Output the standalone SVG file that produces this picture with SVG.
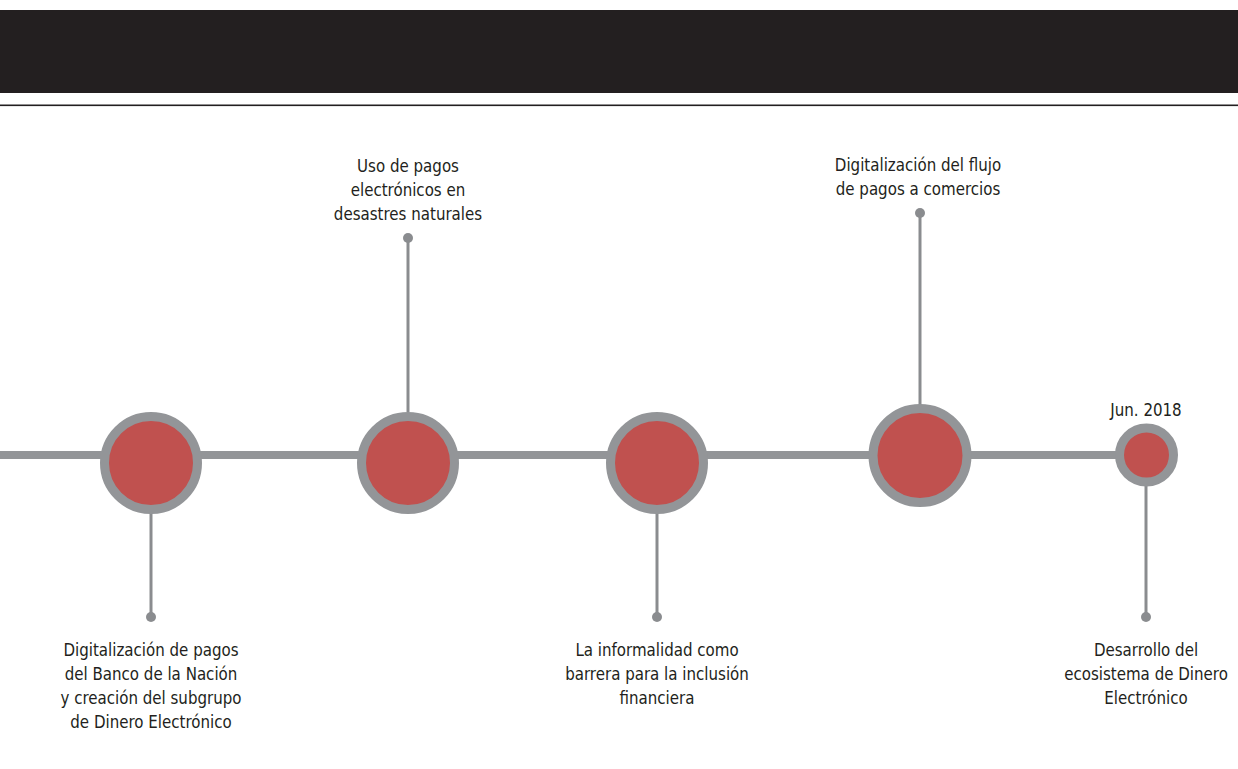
<svg xmlns="http://www.w3.org/2000/svg" width="1238" height="769" viewBox="0 0 1238 769">
<style>
.ring{fill:#c0514f;stroke:#939598;stroke-width:9}
.stem{stroke:#8a8c8f;stroke-width:3}
.dot{fill:#8a8c8f}
.lbl{font-family:"Liberation Sans Narrow","DejaVu Sans Condensed","Liberation Sans",sans-serif;font-size:18px;fill:#231f20;text-anchor:middle}
</style>
<rect x="0" y="0" width="1238" height="769" fill="#ffffff"/>
<rect x="0" y="10" width="1238" height="83" fill="#231f20"/>
<rect x="0" y="104.5" width="1238" height="1.6" fill="#231f20"/>
<g id="connectors">
<rect x="0" y="451" width="1146" height="8" fill="#939598"/>
<line class="stem" x1="151" y1="512" x2="151" y2="617"/>
<line class="stem" x1="408" y1="238" x2="408" y2="412"/>
<line class="stem" x1="657" y1="512" x2="657" y2="617"/>
<line class="stem" x1="920" y1="213" x2="920" y2="405"/>
<line class="stem" x1="1146" y1="486" x2="1146" y2="617"/>
<circle class="dot" cx="151" cy="617" r="5"/>
<circle class="dot" cx="408" cy="238" r="5"/>
<circle class="dot" cx="657" cy="617" r="5"/>
<circle class="dot" cx="920" cy="213" r="5"/>
<circle class="dot" cx="1146" cy="617" r="5"/>
</g>
<g id="node1">
<circle class="ring" cx="151" cy="463" r="46.5"/>
<g transform="translate(151 0) scale(0.93 1)">
<text class="lbl" x="0" y="656">Digitalización de pagos</text>
<text class="lbl" x="0" y="680">del Banco de la Nación</text>
<text class="lbl" x="0" y="704">y creación del subgrupo</text>
<text class="lbl" x="0" y="728">de Dinero Electrónico</text>
</g>
</g>
<g id="node2">
<circle class="ring" cx="408" cy="463" r="46.5"/>
<g transform="translate(408 0) scale(0.93 1)">
<text class="lbl" x="0" y="172">Uso de pagos</text>
<text class="lbl" x="0" y="196">electrónicos en</text>
<text class="lbl" x="0" y="220">desastres naturales</text>
</g>
</g>
<g id="node3">
<circle class="ring" cx="657" cy="463" r="46.5"/>
<g transform="translate(657 0) scale(0.93 1)">
<text class="lbl" x="0" y="656">La informalidad como</text>
<text class="lbl" x="0" y="680">barrera para la inclusión</text>
<text class="lbl" x="0" y="704">financiera</text>
</g>
</g>
<g id="node4">
<circle class="ring" cx="920" cy="455.5" r="47"/>
<g transform="translate(918 0) scale(0.93 1)">
<text class="lbl" x="0" y="171">Digitalización del flujo</text>
<text class="lbl" x="0" y="195">de pagos a comercios</text>
</g>
</g>
<g id="node5">
<circle class="ring" cx="1146.5" cy="455" r="27"/>
<g transform="translate(1146 0) scale(0.93 1)">
<text class="lbl" x="0" y="416">Jun. 2018</text>
<text class="lbl" x="0" y="656">Desarrollo del</text>
<text class="lbl" x="0" y="680">ecosistema de Dinero</text>
<text class="lbl" x="0" y="704">Electrónico</text>
</g>
</g>
</svg>
